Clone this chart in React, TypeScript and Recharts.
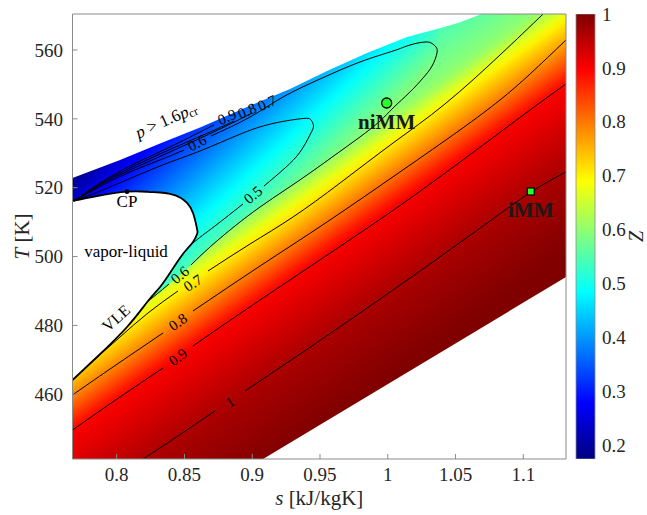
import React from "react";
import { ComposedChart, BarChart, Area, Line, Scatter, Bar, XAxis, YAxis } from "recharts";

const SERIF = '"Liberation Serif", "Times New Roman", serif';
const INK = "#262626";
const FRAME = "#8a8a8a";

// axes
const S_DOMAIN: [number, number] = [0.7674, 1.1315];
const T_DOMAIN: [number, number] = [441.2, 570.45];
const S_TICKS = [0.8, 0.85, 0.9, 0.95, 1, 1.05, 1.1];
const T_TICKS = [460, 480, 500, 520, 540, 560];

// colour bar
const Z_RANGE: [number, number] = [0.174, 1];
const Z_TICKS = [0.2, 0.3, 0.4, 0.5, 0.6, 0.7, 0.8, 0.9, 1];

type Pt = { s: number; T: number };
const pts = (rows: number[][]): Pt[] => rows.map(([s, T]) => ({ s, T }));

// upper edge of the computed region (p > 1.6 pcr is cut away)
const topEdge = pts([
  [0.7674, 522.82], [0.8025, 528.05], [0.832, 532.84], [0.8615, 537.48], [0.8962, 543.44],
  [0.9279, 548.67], [0.9552, 553.89], [0.9847, 559.12], [1.0142, 563.77], [1.0363, 566.09],
  [1.0533, 567.98], [1.0696, 570.45], [1.1315, 570.45],
]);
// lower right edge of the computed region
const bottomEdge = pts([[0.908, 441.2], [1.1315, 494.06]]);

// vapor-liquid dome
const domeS = [0.7674, 0.7855, 0.8076, 0.8231, 0.832, 0.8393, 0.8467, 0.8519, 0.8563, 0.8593];
const domeTop = [516.14, 517.59, 518.84, 518.81, 518.61, 518.17, 517.15, 515.56, 512.66, 508.0];
const domeBottom = [464.15, 470.83, 479.54, 487.09, 491.16, 495.23, 499.58, 502.2, 504.23, 506.55];
const domeTip = { s: 0.8596, T: 507.28 };
const critPoint = { s: 0.8076, T: 518.84 };

// where the low Z lobe ends (VLE, then the 0.6 line, then the top edge)
const warmEdge = pts([
  [0.7674, 464.15], [0.7855, 470.83], [0.8076, 479.54], [0.8231, 487.09], [0.832, 489.85],
  [0.8467, 494.64], [0.8593, 499.0], [0.8689, 502.78], [0.8873, 508.88], [0.9058, 514.39],
  [0.9242, 519.33], [0.9426, 524.27], [0.9611, 529.5], [0.9795, 534.73], [0.9943, 539.37],
  [1.0039, 543.15], [1.0164, 547.8], [1.026, 551.86], [1.0327, 555.35], [1.0363, 559.12],
  [1.0371, 565.95], [1.0533, 567.98], [1.0696, 570.45], [1.1315, 570.45],
]);

// contour lines, split where the labels sit
const z05 = [
  pts([[0.7685, 516.14], [0.7951, 520.2], [0.832, 526.3], [0.8615, 530.66], [0.8932, 535.89], [0.9168, 538.79],
    [0.9375, 540.1], [0.9434, 539.66], [0.9452, 537.92], [0.9426, 535.31], [0.9353, 530.37], [0.9242, 525.72], [0.9087, 520.49]]),
  pts([[0.8932, 515.27], [0.8725, 508.88], [0.8563, 503.94], [0.8489, 500.74]]),
];
const z06 = [
  pts([[0.8224, 486.8], [0.832, 489.85], [0.8386, 492.03]]),
  pts([[0.8548, 497.55], [0.8689, 502.78], [0.8873, 508.88], [0.9058, 514.39], [0.9242, 519.33], [0.9426, 524.27],
    [0.9611, 529.5], [0.9795, 534.73], [0.9943, 539.37], [1.0039, 543.15], [1.0164, 547.8], [1.026, 551.86],
    [1.0327, 555.35], [1.0363, 559.12], [1.0356, 560.87], [1.0327, 561.88], [1.0275, 562.32], [1.0164, 561.45],
    [1.0039, 559.7], [0.9795, 556.51], [0.95, 551.57], [0.9227, 546.34], [0.8984, 540.53], [0.8696, 535.02]]),
  pts([[0.8497, 530.95], [0.832, 528.05], [0.8098, 524.56], [0.7877, 520.35], [0.7685, 516.14]]),
];
const z07 = [
  pts([[0.7825, 469.67], [0.8025, 476.64], [0.8231, 483.61], [0.8452, 490.0]]),
  pts([[0.8674, 495.81], [0.8984, 503.65], [0.9301, 511.49], [0.9648, 521.36], [1.0039, 532.98], [1.0422, 544.31],
    [1.0828, 558.54], [1.1146, 570.45]]),
  pts([[0.7685, 516.14], [0.7877, 520.78], [0.8098, 525.14], [0.8393, 530.37], [0.8762, 537.05], [0.8998, 541.7]]),
];
const z08 = [
  pts([[0.7674, 459.79], [0.7951, 467.34], [0.8342, 477.8]]),
  pts([[0.8563, 484.19], [0.9058, 497.26], [0.9552, 510.04], [1.009, 524.56], [1.0533, 536.76], [1.0828, 545.47],
    [1.105, 553.02], [1.1315, 562.9]]),
  pts([[0.7685, 516.14], [0.7877, 521.07], [0.8098, 525.72], [0.8393, 531.09], [0.8689, 536.18], [0.8866, 539.37]]),
];
const z09 = [
  pts([[0.7674, 449.62], [0.8025, 459.21], [0.8342, 467.63]]),
  pts([[0.8563, 474.02], [0.9058, 487.38], [0.9817, 507.42], [1.0312, 521.07], [1.0703, 532.4], [1.105, 542.57],
    [1.1315, 550.12]]),
  pts([[0.7685, 516.14], [0.7877, 521.36], [0.8098, 526.3], [0.8393, 531.82], [0.8615, 536.18], [0.8718, 538.21]]),
];
const z10 = [
  pts([[0.8196, 441.21], [0.843, 447.3], [0.8725, 455.14]]),
  pts([[0.8947, 460.95], [0.9353, 471.7], [0.9795, 483.61], [1.0238, 495.81], [1.0703, 508.88], [1.1057, 518.75],
    [1.1315, 524.56]]),
];

const contourLabels = [
  { id: "l10", s: 0.8836, T: 457.76, text: "1" },
  { id: "l09", s: 0.8452, T: 470.83, text: "0.9" },
  { id: "l08", s: 0.8452, T: 480.99, text: "0.8" },
  { id: "l07", s: 0.8563, T: 492.32, text: "0.7" },
  { id: "l06", s: 0.8467, T: 494.64, text: "0.6" },
  { id: "l05", s: 0.9006, T: 517.88, text: "0.5" },
  { id: "l06u", s: 0.8593, T: 532.98, text: "0.6" },
  { id: "l09u", s: 0.8814, T: 540.53, text: "0.9" },
  { id: "l08u", s: 0.8962, T: 542.28, text: "0.8" },
  { id: "l07u", s: 0.9109, T: 544.6, text: "0.7" },
];
const LABEL_ROT: Record<string, number> = {
  l10: -34, l09: -35, l08: -34, l07: -33, l06: -40, l05: -40, l06u: -27, l09u: -24, l08u: -24, l07u: -24,
};

const notes = [
  { id: "pcr", s: 0.8364, T: 539.66 },
  { id: "vl", s: 0.8069, T: 501.61 },
  { id: "vle", s: 0.7995, T: 482.15 },
];
const machines = [
  { name: "niMM", s: 0.9992, T: 544.6 },
  { name: "iMM", s: 1.1055, T: 518.9 },
];

// colour calibration: projection value -> Z
const WARM_CAL = [[200, 0.42], [340, 0.55], [389, 0.6], [416, 0.7], [450, 0.8], [482, 0.9], [565, 0.965], [650, 1.0], [700, 1.0]];
const COOL_CAL = [[230, 0.174], [252, 0.2], [280, 0.27], [469, 0.6], [560, 0.66]];

const clamp01 = (v: number) => Math.max(0, Math.min(1, v));
const jet = (z: number) => {
  const t = clamp01((z - Z_RANGE[0]) / (Z_RANGE[1] - Z_RANGE[0]));
  const r = clamp01(1.5 - Math.abs(4 * t - 3));
  const g = clamp01(1.5 - Math.abs(4 * t - 2));
  const b = clamp01(1.5 - Math.abs(4 * t - 1));
  return `rgb(${Math.round(r * 255)},${Math.round(g * 255)},${Math.round(b * 255)})`;
};
const lookup = (cal: number[][], v: number) => {
  if (v <= cal[0][0]) return cal[0][1];
  for (let i = 1; i < cal.length; i++) {
    if (v <= cal[i][0]) {
      const [a, za] = cal[i - 1];
      const [b, zb] = cal[i];
      return za + ((v - a) / (b - a)) * (zb - za);
    }
  }
  return cal[cal.length - 1][1];
};
const bandStops = (cal: number[][]) => {
  const lo = cal[0][0];
  const hi = cal[cal.length - 1][0];
  const out = [];
  for (let i = 0; i <= 60; i++) {
    const v = lo + ((hi - lo) * i) / 60;
    out.push(<stop key={i} offset={i / 60} stopColor={jet(lookup(cal, v))} />);
  }
  return out;
};
const gradEnds = (cal: number[][], dx: number) => {
  const n2 = dx * dx + 1;
  const lo = cal[0][0];
  const hi = cal[cal.length - 1][0];
  return { x1: (dx * lo) / n2, y1: lo / n2, x2: (dx * hi) / n2, y2: hi / n2 };
};

const domeBand = domeS.map((s, i) => ({ s, band: [domeBottom[i], domeTop[i]] }));
const domeOutline: Pt[] = [
  ...domeS.map((s, i) => ({ s, T: domeTop[i] })),
  domeTip,
  ...domeS.map((s, i) => ({ s, T: domeBottom[i] })).reverse(),
];

const XLabel = (props: any) => {
  const vb = props.viewBox || { x: 72.5, y: 459, width: 493.5, height: 56 };
  return (
    <text x={vb.x + vb.width / 2} y={vb.y + 39} textAnchor="middle" dominantBaseline="central"
      fontFamily={SERIF} fontSize={21} fill={INK}>
      <tspan fontStyle="italic">s</tspan>
      {" [kJ/kgK]"}
    </text>
  );
};

const YLabel = (props: any) => {
  const vb = props.viewBox || { x: 0, y: 14, width: 72.5, height: 445 };
  const x = vb.x + 22;
  const y = vb.y + vb.height / 2;
  return (
    <text x={x} y={y} transform={`rotate(-90 ${x} ${y})`} textAnchor="middle" dominantBaseline="central"
      fontFamily={SERIF} fontSize={21} fill={INK}>
      <tspan fontStyle="italic">T</tspan>
      {" [K]"}
    </text>
  );
};

const ZLabel = (props: any) => {
  const vb = props.viewBox || { x: 25, y: 14, width: 52, height: 445 };
  const x = vb.x + 41;
  const y = vb.y + vb.height / 2;
  return (
    <text x={x} y={y} transform={`rotate(-90 ${x} ${y})`} textAnchor="middle" dominantBaseline="central"
      fontFamily={SERIF} fontSize={20} fontStyle="italic" fill={INK}>
      Z
    </text>
  );
};

const ContourLabel = (props: any) => {
  const { cx, cy, payload } = props;
  return (
    <text x={cx} y={cy} transform={`rotate(${LABEL_ROT[payload.id] || 0} ${cx} ${cy})`} textAnchor="middle"
      dominantBaseline="central" fontFamily={SERIF} fontSize={15} fill="#000">
      {payload.text}
    </text>
  );
};

const NoteText = (props: any) => {
  const { cx, cy, payload } = props;
  const common = { textAnchor: "middle" as const, dominantBaseline: "central" as const, fontFamily: SERIF, fill: "#000" };
  if (payload.id === "pcr") {
    return (
      <text x={cx} y={cy} transform={`rotate(-24 ${cx} ${cy})`} fontSize={17} {...common}>
        <tspan fontStyle="italic">p</tspan>
        {" > 1.6"}
        <tspan fontStyle="italic">p</tspan>
        <tspan fontSize={12} dy={4}>cr</tspan>
      </text>
    );
  }
  if (payload.id === "vle") {
    return (
      <text x={cx} y={cy} transform={`rotate(-42 ${cx} ${cy})`} fontSize={16} {...common}>
        VLE
      </text>
    );
  }
  return (
    <text x={cx} y={cy} fontSize={17} {...common}>
      vapor-liquid
    </text>
  );
};

const MachineMark = (props: any) => {
  const { cx, cy, payload } = props;
  const round = payload.name === "niMM";
  return (
    <g>
      {round ? (
        <circle cx={cx} cy={cy} r={5} fill="#2bff2b" stroke="#000" strokeWidth={1.3} />
      ) : (
        <rect x={cx - 3.5} y={cy - 3.5} width={7} height={7} fill="#2bff2b" stroke="#000" strokeWidth={1.2} />
      )}
      <text x={cx} y={cy + 19} textAnchor="middle" dominantBaseline="central" fontFamily={SERIF}
        fontSize={21} fontWeight="bold" fill="#1a1a1a">
        {payload.name}
      </text>
    </g>
  );
};

const CritMark = (props: any) => {
  const { cx, cy } = props;
  return (
    <g>
      <circle cx={cx} cy={cy} r={2.4} fill="#000" />
      <text x={cx} y={cy + 10} textAnchor="middle" dominantBaseline="central" fontFamily={SERIF}
        fontSize={17} fill="#000">
        CP
      </text>
    </g>
  );
};

const tickStyle = { fontFamily: SERIF, fontSize: 19, fill: INK };

const contourSegments = [...z05, ...z06, ...z07, ...z08, ...z09, ...z10];

const cbData = [{ name: "Z", range: Z_RANGE }];

export default function App() {
  const cbStops = [];
  for (let i = 0; i <= 40; i++) {
    const z = Z_RANGE[1] - ((Z_RANGE[1] - Z_RANGE[0]) * i) / 40;
    cbStops.push(<stop key={i} offset={i / 40} stopColor={jet(z)} />);
  }

  return (
    <div style={{ position: "absolute", left: 0, top: 0, width: 647, height: 515, background: "#fff" }}>
      <ComposedChart width={647} height={515} margin={{ top: 13, right: 80, bottom: 0, left: 0 }}>
        <defs>
          <linearGradient id="warmFill" gradientUnits="userSpaceOnUse" {...gradEnds(WARM_CAL, 0.7)}>
            {bandStops(WARM_CAL)}
          </linearGradient>
          <linearGradient id="coolFill" gradientUnits="userSpaceOnUse" {...gradEnds(COOL_CAL, 0.914)}>
            {bandStops(COOL_CAL)}
          </linearGradient>
        </defs>
        <XAxis type="number" dataKey="s" domain={S_DOMAIN} ticks={S_TICKS} allowDataOverflow height={56}
          stroke={FRAME} tickSize={-5} tickMargin={14} tick={tickStyle} label={{ content: XLabel }} />
        <XAxis xAxisId="top" orientation="top" type="number" dataKey="s" domain={S_DOMAIN} ticks={S_TICKS}
          allowDataOverflow height={1} stroke={FRAME} tickSize={-5} tick={false} />
        <YAxis type="number" dataKey="T" domain={T_DOMAIN} ticks={T_TICKS} allowDataOverflow width={72.5}
          stroke={FRAME} tickSize={-5} tickMargin={14.5} tick={tickStyle} label={{ content: YLabel }} />
        <YAxis yAxisId="right" orientation="right" type="number" domain={T_DOMAIN} ticks={T_TICKS}
          allowDataOverflow width={1} stroke={FRAME} tickSize={-5} tick={false} />

        <Area data={topEdge} dataKey="T" type="linear" baseValue={T_DOMAIN[0]} fill="url(#coolFill)"
          fillOpacity={1} stroke="none" isAnimationActive={false} />
        <Area data={warmEdge} dataKey="T" type="linear" baseValue={T_DOMAIN[0]} fill="url(#warmFill)"
          fillOpacity={1} stroke="none" isAnimationActive={false} />
        <Area data={bottomEdge} dataKey="T" type="linear" baseValue={T_DOMAIN[0]} fill="#fff"
          fillOpacity={1} stroke="none" isAnimationActive={false} />
        <Area data={domeBand} dataKey="band" type="monotone" fill="#fff" fillOpacity={1} stroke="none"
          isAnimationActive={false} />

        {contourSegments.map((seg, i) => (
          <Line key={`c${i}`} data={seg} dataKey="T" type="natural" stroke="#000" strokeWidth={1}
            dot={false} activeDot={false} isAnimationActive={false} />
        ))}
        <Line data={domeOutline} dataKey="T" type="natural" stroke="#000" strokeWidth={1.8} dot={false}
          activeDot={false} isAnimationActive={false} />

        <Scatter data={contourLabels} shape={ContourLabel} isAnimationActive={false} />
        <Scatter data={notes} shape={NoteText} isAnimationActive={false} />
        <Scatter data={[critPoint]} shape={CritMark} isAnimationActive={false} />
        <Scatter data={machines} shape={MachineMark} isAnimationActive={false} />
      </ComposedChart>

      <div style={{ position: "absolute", left: 570, top: 0 }}>
        <BarChart width={77} height={515} data={cbData} margin={{ top: 14, right: 0, bottom: 56, left: 6 }}
          barCategoryGap={0}>
          <defs>
            <linearGradient id="cbFill" x1="0" y1="0" x2="0" y2="1">
              {cbStops}
            </linearGradient>
          </defs>
          <XAxis dataKey="name" hide />
          <YAxis orientation="right" type="number" domain={Z_RANGE} ticks={Z_TICKS} allowDataOverflow width={52}
            axisLine={false} tickLine={false} tickSize={0} tickMargin={7} tick={tickStyle}
            label={{ content: ZLabel }} />
          <Bar dataKey="range" fill="url(#cbFill)" stroke={FRAME} strokeWidth={0.8} isAnimationActive={false} />
        </BarChart>
      </div>
    </div>
  );
}
